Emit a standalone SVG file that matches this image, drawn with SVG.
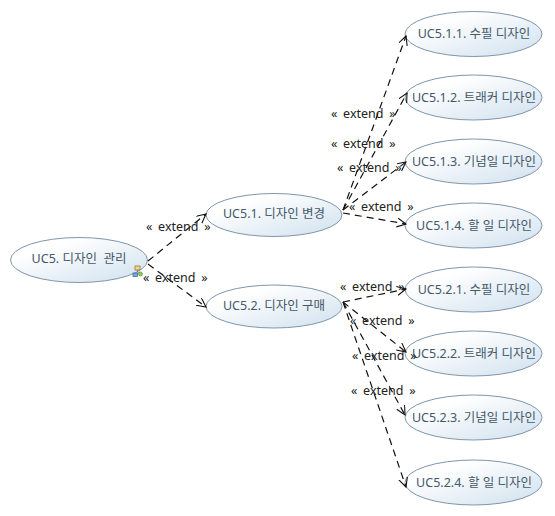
<svg xmlns="http://www.w3.org/2000/svg" width="555" height="516" viewBox="0 0 555 516">
<style>
text{font-family:"Noto Sans","Noto Sans CJK KR",sans-serif;font-size:12.500px;white-space:pre}
.n{fill:url(#g);stroke:#7f96a8;stroke-width:1}
.t{fill:#44586a;text-anchor:middle}
.c{fill:none;stroke:#111;stroke-width:1.200;stroke-dasharray:7 5;marker-end:url(#a)}
.l{fill:#222;font-size:12.500px;word-spacing:2.500px}
</style>
<defs>
<linearGradient id="g" x1="0" y1="0" x2="1" y2="1"><stop offset="0.25" stop-color="#ffffff"/><stop offset="1" stop-color="#cfe0ee"/></linearGradient>
<marker id="a" markerWidth="11" markerHeight="11" refX="9" refY="4.500" orient="auto" markerUnits="userSpaceOnUse"><path d="M0 0L9 4.500L0 9" fill="none" stroke="#111" stroke-width="1.100"/></marker>
</defs>
<rect width="555" height="516" fill="#fff"/>
<g id="uc5"><ellipse class="n" cx="79" cy="260" rx="68.500" ry="22.500"/><text class="t" x="79" y="263">UC5. 디자인  관리</text>
<g id="uc5-icon"><rect x="135" y="266" width="5" height="4" fill="#f0d890" stroke="#8a6d20" stroke-width=".7"/><path d="M137.500 270V272M135 274L140 272" stroke="#667" stroke-width=".7" fill="none"/><rect x="133" y="273" width="4.500" height="3.500" fill="#7fa8d8" stroke="#2f5a90" stroke-width=".7"/><circle cx="140.500" cy="274" r="2" fill="#8fcf60" stroke="#4a8a30" stroke-width=".6"/></g></g>
<g id="uc5-1"><ellipse class="n" cx="274" cy="215" rx="68" ry="21.500"/><text class="t" x="274" y="218">UC5.1. 디자인 변경</text></g>
<g id="uc5-2"><ellipse class="n" cx="274" cy="306.500" rx="68" ry="21.500"/><text class="t" x="274" y="310">UC5.2. 디자인 구매</text></g>
<g id="uc5-1-1"><ellipse class="n" cx="473.500" cy="34" rx="68.500" ry="22.500"/><text class="t" x="474" y="38">UC5.1.1. 수필 디자인</text></g>
<g id="uc5-1-2"><ellipse class="n" cx="473.500" cy="97.500" rx="68.500" ry="22.500"/><text class="t" x="474" y="102">UC5.1.2. 트래커 디자인</text></g>
<g id="uc5-1-3"><ellipse class="n" cx="473.500" cy="161.500" rx="68.500" ry="22.500"/><text class="t" x="474" y="166">UC5.1.3. 기념일 디자인</text></g>
<g id="uc5-1-4"><ellipse class="n" cx="473.500" cy="225.500" rx="68.500" ry="22.500"/><text class="t" x="474" y="230">UC5.1.4. 할 일 디자인</text></g>
<g id="uc5-2-1"><ellipse class="n" cx="473.500" cy="289.500" rx="68.500" ry="22.500"/><text class="t" x="474" y="294">UC5.2.1. 수필 디자인</text></g>
<g id="uc5-2-2"><ellipse class="n" cx="473.500" cy="353.500" rx="68.500" ry="22.500"/><text class="t" x="474" y="358">UC5.2.2. 트래커 디자인</text></g>
<g id="uc5-2-3"><ellipse class="n" cx="473.500" cy="417.500" rx="68.500" ry="22.500"/><text class="t" x="474" y="422">UC5.2.3. 기념일 디자인</text></g>
<g id="uc5-2-4"><ellipse class="n" cx="473.500" cy="482.500" rx="68.500" ry="22.500"/><text class="t" x="474" y="487">UC5.2.4. 할 일 디자인</text></g>
<g id="connectors">
<path class="c" d="M148 261L206 214"/>
<path class="c" d="M148 264L206 307"/>
<path class="c" d="M343 210L406 36"/>
<path class="c" d="M343 210L407 93"/>
<path class="c" d="M343 210L406 162"/>
<path class="c" d="M343 213L406 224"/>
<path class="c" d="M343 302L406 289"/>
<path class="c" d="M343 302L406 352"/>
<path class="c" d="M343 302L405 415"/>
<path class="c" d="M343 302L406 487"/>
</g>
<g id="labels">
<text class="l" x="146" y="231">« extend »</text>
<text class="l" x="143" y="282">« extend »</text>
<text class="l" x="331" y="118">« extend »</text>
<text class="l" x="331" y="148">« extend »</text>
<text class="l" x="337" y="172">« extend »</text>
<text class="l" x="349" y="211">« extend »</text>
<text class="l" x="340" y="291">« extend »</text>
<text class="l" x="350" y="325">« extend »</text>
<text class="l" x="352" y="360">« extend »</text>
<text class="l" x="351" y="395">« extend »</text>
</g>
</svg>
